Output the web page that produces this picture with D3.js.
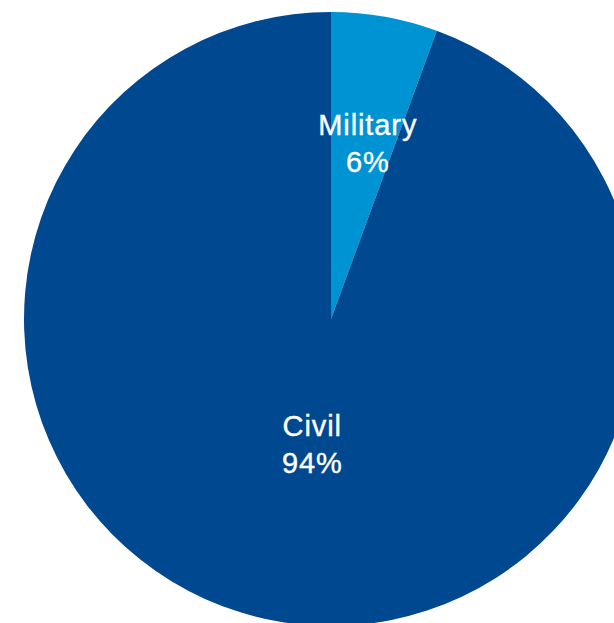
<!DOCTYPE html>
<meta charset="utf-8">
<html>
<head>
<script src="https://d3js.org/d3.v7.min.js"></script>
<style>
body { margin: 0; background: #fff; }
</style>
</head>
<body>
<div id="chart"></div>
<script>

// data
var categories = ["Military", "Civil"];
var shares = [5.6, 94.4];
var colors = ["#0093d3", "#004890"];

var width = 614, height = 623;
var cx = 331, cy = 319, radius = 307;

var svg = d3.select("#chart")
  .append("svg")
    .attr("width", width)
    .attr("height", height)
  .append("g")
    .attr("transform", "translate(" + cx + "," + cy + ")");

var pie = d3.pie().sort(null).value(function(d) { return d; });
var arcs = pie(shares);

var arc = d3.arc().innerRadius(0).outerRadius(radius);

svg.selectAll("path")
  .data(arcs)
  .enter()
  .append("path")
    .attr("d", arc)
    .style("fill", function(d, i) { return colors[i]; });

// label radius differs per slice (small slice pushed outwards)
var labelR = [0.61 * radius, 0.386 * radius];
var labelShift = [4, 2];

var labels = svg.selectAll(".lbl")
  .data(arcs)
  .enter()
  .append("text")
    .attr("class", "lbl")
    .attr("text-anchor", "middle")
    .style("font-family", "'Liberation Sans', Arial, sans-serif")
    .style("font-size", "29px")
    .style("letter-spacing", "0.9px")
    .style("fill", "#fff")
    .style("stroke", "#fff")
    .style("stroke-width", "0.4px")
    .attr("transform", function(d, i) {
      var a = (d.startAngle + d.endAngle) / 2;
      var x = Math.sin(a) * labelR[i] + labelShift[i], y = -Math.cos(a) * labelR[i];
      return "translate(" + x + "," + y + ")";
    });

labels.append("tspan")
  .attr("x", 0)
  .attr("y", 0)
  .text(function(d, i) { return categories[i]; });
labels.append("tspan")
  .attr("x", 0)
  .attr("y", 37)
  .text(function(d) { return Math.round(d.value) + "%"; });

</script>
</body>
</html>
